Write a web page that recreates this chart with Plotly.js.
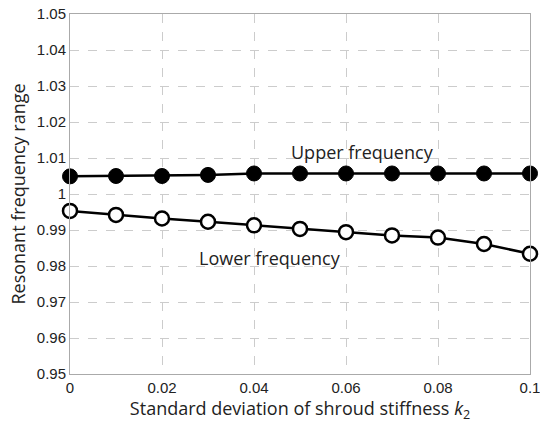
<!DOCTYPE html>
<html><head><meta charset="utf-8">
<script src="https://cdn.plot.ly/plotly-3.0.1.min.js"></script>
<style>html,body{margin:0;padding:0;background:#fff}</style>
</head><body><div id="chart" style="width:540px;height:429px"></div>
<script>
const xVals = [0, 0.01, 0.02, 0.03, 0.04, 0.05, 0.06, 0.07, 0.08, 0.09, 0.1];
const upperFreq = [1.0049, 1.0050, 1.0050, 1.0053, 1.0057, 1.0057, 1.0057, 1.0057, 1.0057, 1.0057, 1.0057];
const lowerFreq = [0.9953, 0.9942, 0.9932, 0.9923, 0.9913, 0.9903, 0.9894, 0.9885, 0.9879, 0.9861, 0.9834];
const xTicks = [0, 0.02, 0.04, 0.06, 0.08, 0.1];
const xTickText = ['0', '0.02', '0.04', '0.06', '0.08', '0.1'];
const yTicks = [0.95, 0.96, 0.97, 0.98, 0.99, 1, 1.01, 1.02, 1.03, 1.04, 1.05];
const yTickText = ['0.95', '0.96', '0.97', '0.98', '0.99', '1', '1.01', '1.02', '1.03', '1.04', '1.05'];

const traces = [
  {x: xVals, y: upperFreq, mode: 'lines+markers', line: {color: '#000', width: 2.5},
   marker: {symbol: 'circle', size: 15, color: '#000', line: {color: '#000', width: 1}}, cliponaxis: false},
  {x: xVals, y: lowerFreq, mode: 'lines+markers', line: {color: '#000', width: 2.5},
   marker: {symbol: 'circle', size: 14, color: '#fff', line: {color: '#000', width: 2.5}}, cliponaxis: false}
];
const tickFont = {family: 'Liberation Sans Narrow, Arial Narrow, Liberation Sans', size: 15, color: '#222'};
const titleFont = {family: 'Open Sans, Lato', size: 18, color: '#222'};
const axisCommon = {showline: true, mirror: true, linecolor: '#aaa', linewidth: 1,
  showgrid: true, gridcolor: '#ccc', griddash: 'dash', gridwidth: 1, zeroline: false,
  ticks: '', tickfont: tickFont, ticklabeloverflow: 'allow'};
const layout = {
  width: 540, height: 429,
  margin: {l: 70, r: 10, t: 14, b: 55},
  paper_bgcolor: '#fff', plot_bgcolor: '#fff',
  showlegend: false,
  xaxis: Object.assign({}, axisCommon, {range: [0, 0.1], tickvals: xTicks, ticktext: xTickText,
    title: {text: 'Standard deviation of shroud stiffness <i>k</i><sub>2</sub>', font: titleFont, standoff: 4}}),
  yaxis: Object.assign({}, axisCommon, {range: [0.95, 1.05], tickvals: yTicks, ticktext: yTickText,
    title: {text: 'Resonant frequency range', font: titleFont, standoff: 6}}),
  annotations: [
    {x: 0.0635, y: 1.0118, text: 'Upper frequency', showarrow: false, font: titleFont},
    {x: 0.0435, y: 0.9822, text: 'Lower frequency', showarrow: false, font: titleFont}
  ]
};
Plotly.newPlot('chart', traces, layout, {displayModeBar: false, staticPlot: true});
</script></body></html>
